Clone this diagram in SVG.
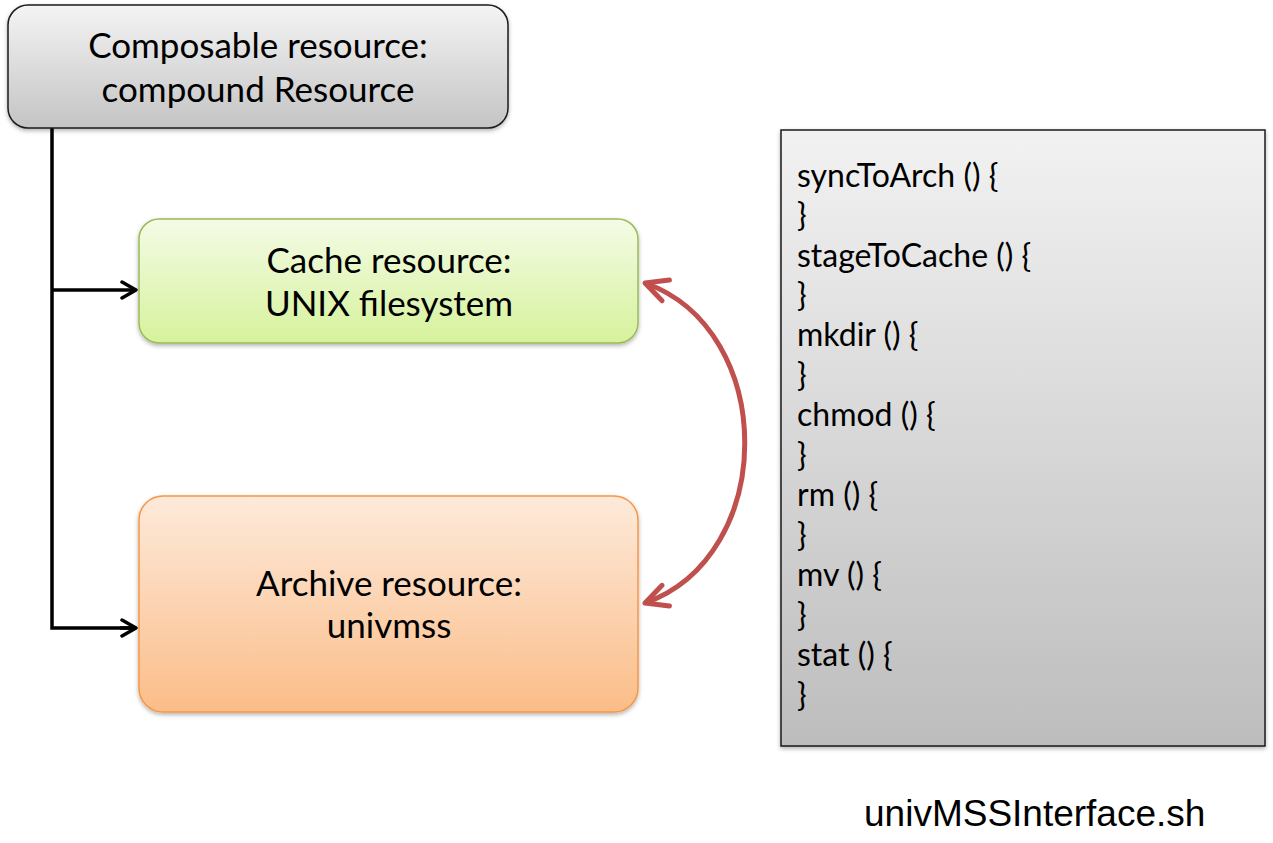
<svg xmlns="http://www.w3.org/2000/svg" width="1273" height="843" viewBox="0 0 1273 843">
<style>
.lbl{font-family:Lato,"Open Sans",sans-serif;font-size:35px;fill:#000;text-anchor:middle}
.code{font-family:Lato,"Open Sans",sans-serif;font-size:32px;fill:#000}
.file{font-family:"Liberation Sans",Arial,sans-serif;font-size:37px;fill:#000}
.conn{fill:none;stroke:#000;stroke-width:3.5}
.red{fill:none;stroke:#c0504d;stroke-width:5}
</style>
<defs>
<linearGradient id="gGray" x1="0" y1="0" x2="0" y2="1"><stop offset="0" stop-color="#f4f4f4"/><stop offset="1" stop-color="#c4c4c4"/></linearGradient>
<linearGradient id="gGreen" x1="0" y1="0" x2="0" y2="1"><stop offset="0" stop-color="#f4fbe6"/><stop offset="1" stop-color="#d6f29c"/></linearGradient>
<linearGradient id="gOrange" x1="0" y1="0" x2="0" y2="1"><stop offset="0" stop-color="#fdeadb"/><stop offset="1" stop-color="#fbbd88"/></linearGradient>
<linearGradient id="gPanel" x1="0" y1="0" x2="0" y2="1"><stop offset="0" stop-color="#f2f2f2"/><stop offset="1" stop-color="#bdbdbd"/></linearGradient>
<filter id="sh" x="-5%" y="-5%" width="110%" height="115%"><feDropShadow dx="0" dy="2" stdDeviation="2" flood-color="#000" flood-opacity="0.3"/></filter>
<marker id="aBlk" markerUnits="userSpaceOnUse" viewBox="-16 -11 18 22" refX="0" refY="0" markerWidth="18" markerHeight="22" orient="auto"><path d="M-14,-8 L0,0 L-14,8" fill="none" stroke="#000" stroke-width="3.5" stroke-linecap="round" stroke-linejoin="round"/></marker>
<marker id="aRed" markerUnits="userSpaceOnUse" viewBox="-26 -14 30 28" refX="0" refY="0" markerWidth="30" markerHeight="28" orient="auto-start-reverse"><path d="M-22,-11 L0,0 L-22,11" fill="none" stroke="#c0504d" stroke-width="5" stroke-linecap="round" stroke-linejoin="round"/></marker>
</defs>
<g id="connectors">
<path class="conn" d="M52,128 V628 H136"/>
<path class="conn" d="M52,290 H136" marker-end="url(#aBlk)"/>
<path class="conn" d="M120,628 H136" marker-end="url(#aBlk)"/>
<path class="red" d="M645,283 C778,330 778,556 645,603" marker-start="url(#aRed)" marker-end="url(#aRed)"/>
</g>
<g id="compound">
<rect x="8" y="5" width="500" height="123" rx="20" fill="url(#gGray)" stroke="#1a1a1a" stroke-width="1.5" filter="url(#sh)"/>
<text class="lbl" x="258" y="58">Composable resource:</text>
<text class="lbl" x="258" y="102">compound Resource</text>
</g>
<g id="cache">
<rect x="139" y="219" width="499" height="124" rx="20" fill="url(#gGreen)" stroke="#9bbb59" stroke-width="1.5" filter="url(#sh)"/>
<text class="lbl" x="389" y="273">Cache resource:</text>
<text class="lbl" x="389" y="316">UNIX filesystem</text>
</g>
<g id="archive">
<rect x="139" y="496" width="499" height="216" rx="24" fill="url(#gOrange)" stroke="#f79646" stroke-width="1.5" filter="url(#sh)"/>
<text class="lbl" x="389" y="596">Archive resource:</text>
<text class="lbl" x="389" y="638">univmss</text>
</g>
<g id="interface">
<rect x="781" y="130" width="484" height="616" fill="url(#gPanel)" stroke="#1a1a1a" stroke-width="1.5" filter="url(#sh)"/>
<text class="code" x="797" y="187">syncToArch () {</text>
<text class="code" x="797" y="226">}</text>
<text class="code" x="797" y="267">stageToCache () {</text>
<text class="code" x="797" y="306">}</text>
<text class="code" x="797" y="346">mkdir () {</text>
<text class="code" x="797" y="386">}</text>
<text class="code" x="797" y="426">chmod () {</text>
<text class="code" x="797" y="466">}</text>
<text class="code" x="797" y="506">rm () {</text>
<text class="code" x="797" y="546">}</text>
<text class="code" x="797" y="586">mv () {</text>
<text class="code" x="797" y="626">}</text>
<text class="code" x="797" y="666">stat () {</text>
<text class="code" x="797" y="706">}</text>
</g>
<g id="filename">
<text class="file" x="864" y="826">univMSSInterface.sh</text>
</g>
</svg>
